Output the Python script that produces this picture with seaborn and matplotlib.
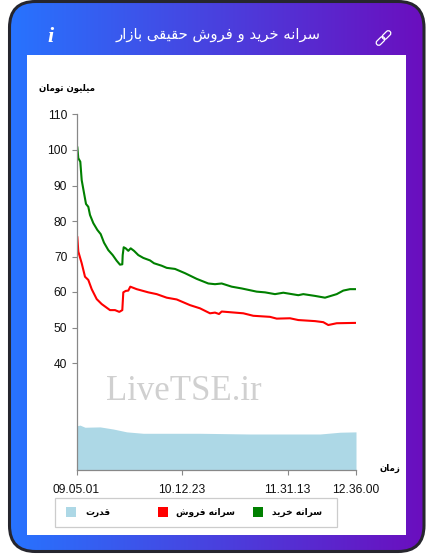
import numpy as np
import pandas as pd
import matplotlib
matplotlib.use("Agg")
import matplotlib.pyplot as plt
import seaborn as sns
from matplotlib.patches import FancyBboxPatch, Rectangle
from matplotlib.transforms import Affine2D

# Chart values
buy_idx = [0.8, 1.8, 3.8, 5.2, 7.5, 9.5, 11.8, 13.5, 16.8, 20.8, 24.2, 27.5, 31.8, 36.2, 40.2,
           43.5, 45.8, 46.2, 47.2, 49.2, 51.8, 54.2, 57.5, 61.8, 66.8, 73.5, 77.5, 85.2, 90.2,
           98.5, 108.5, 120.2, 131.8, 138.5, 145.2, 155.2, 165.2, 180.2, 188.5, 198.5, 206.8,
           221.8, 226.8, 238.5, 248.5, 260.2, 266.8, 273.5, 279.2]
buy_values = [100.9, 97.7, 96.7, 91.5, 87.9, 84.8, 84.0, 81.7, 79.4, 77.5, 76.3, 73.9, 71.8, 70.4,
              68.8, 67.7, 67.8, 70.4, 72.6, 72.3, 71.6, 72.3, 71.6, 70.4, 69.6, 68.9, 68.1, 67.4,
              66.8, 66.5, 65.3, 63.7, 62.4, 62.2, 62.4, 61.5, 61.0, 60.1, 59.9, 59.4, 59.8, 59.1,
              59.4, 58.9, 58.4, 59.4, 60.4, 60.8, 60.8]

sell_idx = [0.8, 1.8, 5.2, 8.5, 11.8, 15.2, 20.2, 25.2, 33.5, 38.5, 42.8, 45.8, 46.8, 49.2, 51.8,
            53.8, 60.2, 71.8, 80.2, 90.2, 100.2, 113.5, 123.5, 133.5, 138.5, 142.5, 145.2, 166.8,
            176.8, 193.5, 200.2, 213.5, 221.8, 238.5, 246.8, 251.8, 260.2, 279.2]
sell_values = [75.6, 71.4, 68.1, 64.3, 63.4, 60.8, 58.0, 56.6, 54.9, 54.9, 54.4, 54.9, 59.9, 60.3,
               60.4, 61.5, 60.8, 59.9, 59.4, 58.4, 57.9, 56.3, 55.4, 54.0, 54.2, 53.8, 54.5, 54.0,
               53.3, 53.0, 52.5, 52.6, 52.1, 51.8, 51.5, 50.7, 51.2, 51.3]

power_idx = [0, 3.5, 8.5, 23.5, 36.8, 50.2, 66.8, 123.5, 173.5, 243.5, 263.5, 279.5]
power_values = [22.3, 22.5, 21.9, 22.0, 21.4, 20.6, 20.2, 20.2, 20.0, 20.0, 20.5, 20.6]

y_ticks = [40, 50, 60, 70, 80, 90, 100, 110]
x_tick_pos = [0, 105, 211, 279]
x_tick_labels = ["09.05.01", "10.12.23", "11.31.13", "12.36.00"]

TITLE = "سرانه خرید و فروش حقیقی بازار"
Y_UNIT = "میلیون تومان"
X_UNIT = "زمان"
BUY_LABEL = "سرانه خرید"
SELL_LABEL = "سرانه فروش"
POWER_LABEL = "قدرت"

# matplotlib does not shape Arabic script, so pick the presentation forms by hand
# letter: isolated, final, initial, medial
FORMS = {
    "ا": "\uFE8D\uFE8E", "د": "\uFEA9\uFEAA", "ر": "\uFEAD\uFEAE", "ز": "\uFEAF\uFEB0", "و": "\uFEED\uFEEE",
    "ب": "\uFE8F\uFE90\uFE91\uFE92", "ت": "\uFE95\uFE96\uFE97\uFE98", "ح": "\uFEA1\uFEA2\uFEA3\uFEA4",
    "خ": "\uFEA5\uFEA6\uFEA7\uFEA8", "س": "\uFEB1\uFEB2\uFEB3\uFEB4", "ش": "\uFEB5\uFEB6\uFEB7\uFEB8",
    "ف": "\uFED1\uFED2\uFED3\uFED4", "ق": "\uFED5\uFED6\uFED7\uFED8", "ل": "\uFEDD\uFEDE\uFEDF\uFEE0",
    "م": "\uFEE1\uFEE2\uFEE3\uFEE4", "ن": "\uFEE5\uFEE6\uFEE7\uFEE8", "ه": "\uFEE9\uFEEA\uFEEB\uFEEC",
    "ی": "\uFBFC\uFBFD\uFBFE\uFBFF",
}


def fa(text):
    """Shape a Persian string and put it in visual order."""
    out = []
    for i, ch in enumerate(text):
        if ch not in FORMS:
            out.append(ch)
            continue
        forms = FORMS[ch]
        prev = text[i - 1] if i > 0 else " "
        nxt = text[i + 1] if i + 1 < len(text) else " "
        joins_prev = prev in FORMS and len(FORMS[prev]) == 4
        joins_next = nxt in FORMS and len(forms) == 4
        if joins_prev and joins_next:
            out.append(forms[3])
        elif joins_prev:
            out.append(forms[1])
        elif joins_next:
            out.append(forms[2])
        else:
            out.append(forms[0])
    return "".join(reversed(out))


sns.set_style("ticks")
plt.rcParams["font.family"] = ["Liberation Sans", "DejaVu Sans"]

W, H = 433, 559
fig = plt.figure(figsize=(W / 100, H / 100), dpi=100, facecolor="white")

# Card background, everything on it is placed in pixels
bg = fig.add_axes([0, 0, 1, 1], zorder=0)
bg.set_xlim(0, W)
bg.set_ylim(H, 0)
bg.axis("off")

c_left = np.array([0x27, 0x74, 0xFF]) / 255
c_right = np.array([0x6B, 0x0E, 0xBE]) / 255
t = np.linspace(0, 1, 256)[None, :, None]
grad = c_left * (1 - t) + c_right * t
im = bg.imshow(grad, extent=[8, 425, 553, 0], aspect="auto", zorder=1)
bg.set_xlim(0, W)
bg.set_ylim(H, 0)
card = FancyBboxPatch((9.5, 1.5), 414.5, 550, boxstyle="round,pad=0,rounding_size=26",
                      facecolor="none", edgecolor="#26262e", linewidth=2.2, zorder=2)
bg.add_patch(card)
im.set_clip_path(card)
bg.add_patch(Rectangle((27, 55), 379, 480, facecolor="white", edgecolor="none", zorder=2))

bg.text(218, 35, fa(TITLE), color="white", fontsize=10.6, family="DejaVu Sans", ha="center", va="center", zorder=3)
bg.text(51, 37, "i", color="white", fontsize=16, family="Liberation Serif", weight="bold", style="italic",
        ha="center", va="center", zorder=3)

# Link icon
for cx, cy in [(380.5, 41), (386.5, 35)]:
    tr = Affine2D().rotate_deg_around(cx, cy, -45) + bg.transData
    bg.add_patch(FancyBboxPatch((cx - 5, cy - 2.5), 10, 5, boxstyle="round,pad=0,rounding_size=2.5",
                                facecolor="none", edgecolor="white", linewidth=0.9, transform=tr, zorder=3))

bg.text(184, 392, "LiveTSE.ir", color="#d0d0d0", fontsize=25, family="Liberation Serif",
        ha="center", va="center", zorder=3)
bg.text(67, 88, fa(Y_UNIT), color="black", fontsize=6.2, family="DejaVu Sans", weight="bold",
        ha="center", va="center", zorder=3)
bg.text(390, 468, fa(X_UNIT), color="black", fontsize=6.2, family="DejaVu Sans", weight="bold",
        ha="center", va="center", zorder=3)

# Legend box, columns are not evenly spaced so it is laid out by hand
bg.add_patch(Rectangle((54.5, 497.5), 282, 29, facecolor="white", edgecolor="#cccccc", linewidth=0.9, zorder=3))
for sw_x, color, label, text_x in [(66, "lightblue", POWER_LABEL, 98), (158, "red", SELL_LABEL, 205),
                                   (253, "green", BUY_LABEL, 297.5)]:
    bg.add_patch(Rectangle((sw_x, 507), 10, 10, facecolor=color, edgecolor="none", zorder=4))
    bg.text(text_x, 512.5, fa(label), color="black", fontsize=6.5, family="DejaVu Sans", weight="bold",
            ha="center", va="center", zorder=4)

# Chart itself
ax = fig.add_axes([76.5 / W, 1 - 469.5 / H, 279.5 / W, 355 / H], zorder=1)
ax.patch.set_alpha(0)

ax.fill_between(power_idx, power_values, 10, color="lightblue", linewidth=0)
buy = pd.DataFrame({"idx": buy_idx, "value": buy_values})
sell = pd.DataFrame({"idx": sell_idx, "value": sell_values})
sns.lineplot(data=buy, x="idx", y="value", color="green", linewidth=1.5, ax=ax, errorbar=None, sort=False)
sns.lineplot(data=sell, x="idx", y="value", color="red", linewidth=1.5, ax=ax, errorbar=None, sort=False)

ax.set_xlim(0, 279.5)
ax.set_ylim(10, 110)
ax.set_xlabel("")
ax.set_ylabel("")
ax.set_yticks(y_ticks)
ax.set_xticks(x_tick_pos)
ax.set_xticklabels(x_tick_labels)
ax.tick_params(axis="both", length=3.6, width=0.8, color="#888888", labelsize=8.64, labelcolor="#111111")
ax.tick_params(axis="x", pad=6.5)
ax.tick_params(axis="y", pad=3)
for side in ["top", "right"]:
    ax.spines[side].set_visible(False)
for side in ["left", "bottom"]:
    ax.spines[side].set_color("#888888")
    ax.spines[side].set_linewidth(0.9)

fig.savefig("out.png", dpi=100)
